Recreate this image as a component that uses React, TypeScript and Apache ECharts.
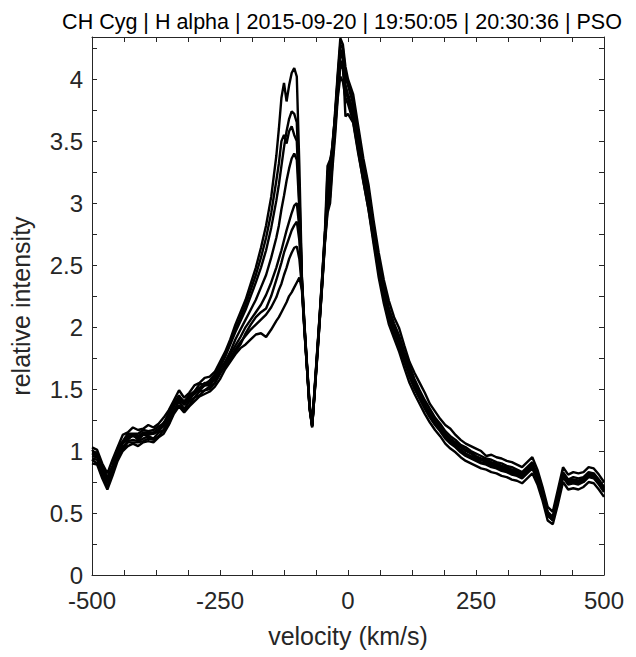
import { useEffect, useRef } from "react";
import * as echarts from "echarts";

const titleText = "CH Cyg | H alpha | 2015-09-20 | 19:50:05 | 20:30:36 | PSO";
const xAxisName = "velocity (km/s)";
const yAxisName = "relative intensity";
const xLabelValues = [-500, -250, 0, 250, 500];
const yLabelValues = [0, 0.5, 1, 1.5, 2, 2.5, 3, 3.5, 4];

const velocity = [
  -500, -490, -480, -470, -460, -450, -440, -430, -420, -410, -400, -390, -380, -370, -360, -350, -340, -330, -320, -310, -300, -290, -280, -270, -260,
  -250, -240, -230, -220, -210, -200, -190, -180, -170, -160, -150,
  -140, -135, -130, -125, -120, -115, -110, -105, -100,
  -95, -90, -85, -80, -75, -70, -65, -60, -55, -50, -45, -40, -35, -30, -25, -20, -15, -10, -5, 0,
  10, 20, 30, 40, 50, 60, 70, 80, 90, 100, 110, 120, 130, 140, 150, 160, 170, 180, 190, 200, 210, 220, 230, 240, 250,
  260, 270, 280, 290, 300, 310, 320, 330, 340, 350, 360, 370, 380, 390, 400, 410, 420, 430, 440, 450, 460, 470, 480, 490, 500,
];

const spectrumA = [
  1.03, 1.01, 0.9, 0.82, 0.93, 1.03, 1.13, 1.15, 1.19, 1.17, 1.18, 1.21, 1.19, 1.22, 1.27, 1.33, 1.41, 1.49, 1.43, 1.47, 1.53, 1.55, 1.59, 1.6, 1.64,
  1.72, 1.8, 1.9, 2.02, 2.12, 2.22, 2.35, 2.48, 2.64, 2.82, 3.05,
  3.38, 3.6, 3.85, 3.97, 3.82, 3.95, 4.05, 4.09, 4.02,
  3.3, 2.4, 2.02, 1.7, 1.38, 1.22, 1.52, 1.82, 2.12, 2.44, 2.78, 3.3, 3.35, 3.45, 3.75, 4.05, 4.33, 4.28, 4.1, 4.0,
  3.88, 3.62, 3.36, 3.15, 2.86, 2.6, 2.38, 2.21, 2.08, 1.99, 1.85, 1.72, 1.63, 1.55, 1.47, 1.38, 1.32, 1.26, 1.21, 1.18, 1.13, 1.09, 1.06, 1.04, 1.02,
  1.0, 0.96, 0.97, 0.95, 0.94, 0.92, 0.91, 0.89, 0.87, 0.91, 0.95, 0.85, 0.71, 0.55, 0.51, 0.69, 0.87, 0.81, 0.83, 0.82, 0.83, 0.87, 0.86, 0.81, 0.75,
];

const spectrumG = [
  1.01, 0.97, 0.88, 0.78, 0.88, 1.02, 1.08, 1.14, 1.14, 1.14, 1.17, 1.16, 1.17, 1.2, 1.22, 1.31, 1.39, 1.44, 1.4, 1.45, 1.48, 1.54, 1.54, 1.57, 1.62,
  1.7, 1.78, 1.88, 1.98, 2.08, 2.18, 2.3, 2.42, 2.56, 2.72, 2.92,
  3.18, 3.32, 3.5, 3.55, 3.48, 3.58, 3.62, 3.55, 3.5,
  3.0, 2.39, 2.01, 1.69, 1.37, 1.21, 1.51, 1.81, 2.11, 2.43, 2.76, 3.1, 3.3, 3.48, 3.72, 4.02, 4.28, 4.25, 4.05, 3.98,
  3.82, 3.55, 3.3, 3.08, 2.8, 2.53, 2.33, 2.15, 2.03, 1.93, 1.8, 1.69, 1.58, 1.49, 1.41, 1.34, 1.27, 1.22, 1.16, 1.12, 1.09, 1.05, 1.03, 1.0, 0.98,
  0.96, 0.94, 0.93, 0.91, 0.9, 0.88, 0.87, 0.85, 0.83, 0.87, 0.91, 0.81, 0.67, 0.51, 0.47, 0.65, 0.83, 0.77, 0.79, 0.78, 0.79, 0.83, 0.82, 0.77, 0.71,
];

const spectrumB = [
  0.99, 0.98, 0.85, 0.79, 0.87, 1.01, 1.07, 1.12, 1.13, 1.12, 1.15, 1.15, 1.15, 1.18, 1.23, 1.28, 1.38, 1.45, 1.38, 1.44, 1.48, 1.51, 1.55, 1.55, 1.6,
  1.68, 1.76, 1.86, 1.96, 2.05, 2.14, 2.25, 2.36, 2.48, 2.62, 2.8,
  3.02, 3.15, 3.3, 3.45, 3.58, 3.68, 3.74, 3.72, 3.65,
  3.1, 2.38, 2.0, 1.68, 1.36, 1.2, 1.5, 1.8, 2.1, 2.42, 2.75, 3.05, 3.25, 3.5, 3.7, 3.98, 4.2, 4.22, 4.02, 3.95,
  3.8, 3.52, 3.28, 3.06, 2.78, 2.5, 2.3, 2.12, 2.0, 1.9, 1.77, 1.66, 1.55, 1.47, 1.38, 1.31, 1.25, 1.2, 1.14, 1.1, 1.07, 1.04, 1.01, 0.99, 0.96,
  0.94, 0.93, 0.91, 0.9, 0.88, 0.87, 0.85, 0.84, 0.82, 0.85, 0.9, 0.8, 0.66, 0.5, 0.46, 0.63, 0.82, 0.76, 0.77, 0.76, 0.78, 0.82, 0.81, 0.76, 0.7,
];

const spectrumC = [
  0.96, 0.95, 0.84, 0.75, 0.87, 0.97, 1.07, 1.09, 1.13, 1.09, 1.13, 1.13, 1.14, 1.16, 1.21, 1.26, 1.37, 1.41, 1.38, 1.41, 1.47, 1.49, 1.53, 1.53, 1.59,
  1.66, 1.72, 1.8, 1.9, 1.98, 2.06, 2.14, 2.22, 2.32, 2.42, 2.56,
  2.72, 2.82, 2.95, 3.06, 3.18, 3.28, 3.36, 3.4, 3.35,
  2.95, 2.36, 2.0, 1.68, 1.36, 1.21, 1.5, 1.8, 2.1, 2.4, 2.72, 3.0, 3.1, 3.4, 3.65, 3.92, 4.12, 4.08, 3.9, 3.85,
  3.72, 3.48, 3.22, 3.0, 2.72, 2.46, 2.26, 2.1, 1.97, 1.86, 1.74, 1.62, 1.52, 1.44, 1.36, 1.29, 1.23, 1.18, 1.12, 1.08, 1.05, 1.01, 0.98, 0.96, 0.94,
  0.93, 0.91, 0.89, 0.88, 0.86, 0.85, 0.83, 0.82, 0.8, 0.84, 0.88, 0.78, 0.65, 0.49, 0.45, 0.62, 0.8, 0.74, 0.76, 0.75, 0.76, 0.8, 0.79, 0.74, 0.68,
];

const spectrumE = [
  0.98, 0.96, 0.86, 0.77, 0.85, 0.99, 1.06, 1.11, 1.12, 1.11, 1.14, 1.14, 1.14, 1.17, 1.2, 1.28, 1.36, 1.43, 1.37, 1.43, 1.46, 1.5, 1.53, 1.54, 1.58,
  1.64, 1.68, 1.75, 1.82, 1.88, 1.93, 1.98, 2.02, 2.06, 2.1, 2.16,
  2.24, 2.3, 2.35, 2.42, 2.48, 2.55, 2.6, 2.64, 2.65,
  2.55, 2.32, 1.98, 1.66, 1.34, 1.19, 1.48, 1.78, 2.07, 2.38, 2.7, 2.95, 3.05, 3.35, 3.6, 3.88, 4.1, 4.12, 3.95, 3.88,
  3.75, 3.5, 3.25, 3.02, 2.76, 2.48, 2.28, 2.1, 1.99, 1.88, 1.76, 1.64, 1.54, 1.46, 1.37, 1.3, 1.24, 1.19, 1.13, 1.09, 1.06, 1.03, 1.0, 0.98, 0.95,
  0.93, 0.92, 0.9, 0.89, 0.87, 0.86, 0.84, 0.83, 0.81, 0.84, 0.89, 0.79, 0.66, 0.5, 0.46, 0.64, 0.81, 0.75, 0.77, 0.76, 0.77, 0.81, 0.8, 0.75, 0.69,
];

const spectrumD = [
  0.94, 0.93, 0.81, 0.74, 0.83, 0.96, 1.03, 1.08, 1.09, 1.08, 1.1, 1.12, 1.1, 1.15, 1.17, 1.25, 1.33, 1.4, 1.34, 1.4, 1.43, 1.48, 1.49, 1.52, 1.55,
  1.62, 1.7, 1.78, 1.85, 1.92, 2.0, 2.06, 2.12, 2.18, 2.26, 2.36,
  2.48, 2.55, 2.62, 2.7, 2.78, 2.85, 2.92, 2.98, 3.0,
  2.8, 2.34, 1.98, 1.67, 1.35, 1.2, 1.49, 1.78, 2.08, 2.38, 2.72, 3.25, 3.32, 3.45, 3.7, 4.0, 4.25, 4.15, 3.7, 3.72,
  3.65, 3.4, 3.18, 2.95, 2.7, 2.44, 2.24, 2.06, 1.95, 1.84, 1.72, 1.6, 1.5, 1.42, 1.34, 1.27, 1.21, 1.16, 1.1, 1.06, 1.03, 0.99, 0.96, 0.94, 0.92,
  0.9, 0.89, 0.87, 0.86, 0.84, 0.83, 0.81, 0.8, 0.78, 0.82, 0.86, 0.77, 0.64, 0.48, 0.44, 0.61, 0.79, 0.73, 0.74, 0.73, 0.75, 0.79, 0.78, 0.73, 0.67,
];

const spectrumH = [
  0.93, 0.9, 0.81, 0.71, 0.82, 0.95, 1.01, 1.07, 1.07, 1.07, 1.08, 1.1, 1.09, 1.12, 1.17, 1.22, 1.32, 1.37, 1.33, 1.37, 1.43, 1.45, 1.49, 1.5, 1.55,
  1.63, 1.68, 1.74, 1.8, 1.86, 1.95, 2.02, 2.08, 2.12, 2.15, 2.25,
  2.38, 2.45, 2.52, 2.6, 2.66, 2.72, 2.78, 2.82, 2.85,
  2.7, 2.33, 1.97, 1.66, 1.35, 1.2, 1.48, 1.77, 2.07, 2.37, 2.7, 2.98, 3.08, 3.38, 3.62, 3.9, 4.15, 4.1, 3.92, 3.85,
  3.7, 3.45, 3.21, 2.98, 2.72, 2.45, 2.23, 2.07, 1.96, 1.85, 1.73, 1.61, 1.51, 1.43, 1.35, 1.28, 1.22, 1.17, 1.11, 1.07, 1.04, 1.0, 0.97, 0.95, 0.93,
  0.91, 0.9, 0.88, 0.87, 0.85, 0.84, 0.82, 0.81, 0.79, 0.83, 0.87, 0.77, 0.64, 0.48, 0.44, 0.62, 0.8, 0.74, 0.75, 0.74, 0.76, 0.8, 0.79, 0.74, 0.68,
];

const spectrumF = [
  0.9, 0.89, 0.78, 0.69, 0.8, 0.92, 1.0, 1.04, 1.06, 1.04, 1.07, 1.08, 1.07, 1.11, 1.14, 1.21, 1.3, 1.36, 1.31, 1.36, 1.4, 1.44, 1.46, 1.48, 1.52,
  1.58, 1.66, 1.72, 1.78, 1.83, 1.86, 1.9, 1.94, 1.95, 1.92, 1.98,
  2.05, 2.08, 2.12, 2.16, 2.2, 2.25, 2.28, 2.32, 2.36,
  2.4, 2.3, 1.96, 1.66, 1.34, 1.2, 1.47, 1.76, 2.06, 2.36, 2.68, 2.92, 3.0, 3.3, 3.55, 3.85, 4.02, 3.98, 3.85, 3.8,
  3.66, 3.42, 3.17, 2.95, 2.67, 2.4, 2.19, 2.02, 1.91, 1.8, 1.67, 1.55, 1.46, 1.38, 1.3, 1.23, 1.17, 1.12, 1.06, 1.02, 0.99, 0.95, 0.92, 0.9, 0.88,
  0.86, 0.85, 0.83, 0.82, 0.8, 0.79, 0.77, 0.76, 0.74, 0.78, 0.82, 0.73, 0.6, 0.44, 0.41, 0.57, 0.75, 0.69, 0.7, 0.69, 0.71, 0.75, 0.74, 0.69, 0.63,
];

const spectra = [spectrumA, spectrumG, spectrumB, spectrumC, spectrumE, spectrumD, spectrumH, spectrumF];

const FONT = "'Liberation Sans', Arial, Helvetica, sans-serif";
const AXIS_COLOR = "#262626";

export default function App() {
  const ref = useRef<HTMLDivElement>(null);

  useEffect(() => {
    if (!ref.current) return;
    const chart = echarts.init(ref.current, null, { renderer: "svg" });

    const near = (v: number, list: number[]) => list.some((t) => Math.abs(t - v) < 1e-6);

    const tickCommon = {
      show: true,
      inside: true,
      length: 5,
      lineStyle: { color: AXIS_COLOR, width: 1 },
    };
    const lineCommon = { show: true, onZero: false, lineStyle: { color: AXIS_COLOR, width: 1 } };
    const labelStyle = { fontFamily: FONT, fontSize: 24, color: AXIS_COLOR };

    const xBase = {
      type: "value" as const,
      min: -500,
      max: 500,
      interval: 62.5,
      axisLine: lineCommon,
      axisTick: tickCommon,
      splitLine: { show: false },
    };
    const yBase = {
      type: "value" as const,
      min: 0,
      max: 4.34,
      interval: 0.25,
      axisLine: lineCommon,
      axisTick: tickCommon,
      splitLine: { show: false },
    };

    chart.setOption({
      animation: false,
      backgroundColor: "#ffffff",
      title: {
        text: titleText,
        left: 337,
        textAlign: "center",
        top: 6,
        textStyle: { fontFamily: FONT, fontSize: 21.5, fontWeight: "normal", color: "#000" },
      },
      grid: {
        left: 92,
        right: 32,
        top: 37,
        bottom: 82,
        containLabel: false,
        outerBoundsMode: "none",
      },
      xAxis: [
        {
          ...xBase,
          position: "bottom",
          name: xAxisName,
          nameLocation: "middle",
          nameGap: 48,
          nameTextStyle: { fontFamily: FONT, fontSize: 25, color: AXIS_COLOR },
          axisLabel: {
            ...labelStyle,
            margin: 13,
            showMinLabel: true,
            showMaxLabel: true,
            formatter: (v: number) => (near(v, xLabelValues) ? String(v) : ""),
          },
        },
        { ...xBase, position: "top", axisLabel: { show: false } },
      ],
      yAxis: [
        {
          ...yBase,
          position: "left",
          name: yAxisName,
          nameLocation: "middle",
          nameGap: 59,
          nameTextStyle: { fontFamily: FONT, fontSize: 25, color: AXIS_COLOR },
          axisLabel: {
            ...labelStyle,
            margin: 9,
            showMaxLabel: false,
            formatter: (v: number) => (near(v, yLabelValues) ? String(v) : ""),
          },
        },
        { ...yBase, position: "right", axisLabel: { show: false } },
      ],
      series: spectra.map((s, k) => ({
        type: "line",
        name: "spectrum " + (k + 1),
        xAxisIndex: 0,
        yAxisIndex: 0,
        showSymbol: false,
        symbol: "none",
        smooth: false,
        clip: true,
        lineStyle: { color: "#000000", width: 2.4 },
        data: velocity.map((v, i) => [v, s[i]]),
      })),
    });

    return () => chart.dispose();
  }, []);

  return <div ref={ref} style={{ width: 636, height: 657, marginLeft: -8, marginTop: -8 }} />;
}
